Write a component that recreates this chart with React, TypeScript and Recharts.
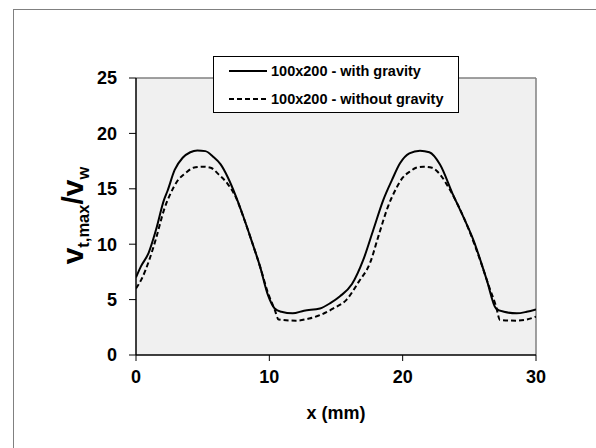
import React from 'react';
import { LineChart, Line, XAxis, YAxis, CartesianGrid, ReferenceLine, Legend } from 'recharts';

// Series: 100x200 - with gravity (solid)
const xGravity = [0, 0.37, 0.94, 1.5, 2.1, 2.36, 2.9, 3.5, 4.07, 4.6, 5.2, 5.78, 6.35, 6.9, 7.5, 8.05, 8.7, 9.3, 9.9, 10.4, 10.9, 11.75, 12.6, 13.8, 14.6, 15.3, 16.2, 17.05, 17.8, 18.55, 19.2, 19.8, 20.5, 21.3, 22.0, 22.8, 23.8, 24.5, 25.3, 26.3, 27.0, 27.6, 28.55, 29.3, 30];
const yGravity = [7.0, 8.0, 9.2, 11.3, 14.0, 14.8, 16.7, 17.8, 18.3, 18.46, 18.4, 17.9, 17.2, 16.0, 14.3, 12.5, 10.2, 8.0, 5.4, 4.2, 3.9, 3.76, 4.0, 4.2, 4.7, 5.3, 6.4, 8.6, 11.3, 14.0, 15.8, 17.3, 18.2, 18.44, 18.3, 17.2, 14.4, 12.6, 10.4, 6.8, 4.2, 3.9, 3.76, 3.9, 4.12];

// Series: 100x200 - without gravity (dashed)
const xNoGravity = [0, 0.4, 1.0, 1.5, 2.1, 2.6, 3.1, 3.7, 4.3, 5.0, 5.6, 6.2, 6.9, 7.5, 8.1, 8.7, 9.3, 9.9, 10.4, 10.7, 12.0, 13.0, 13.8, 14.8, 15.8, 16.7, 17.55, 18.2, 18.9, 19.5, 20.0, 20.6, 21.0, 21.55, 22.2, 22.8, 23.5, 24.2, 25.0, 25.8, 26.5, 27.0, 27.3, 28.5, 29.3, 30];
const yNoGravity = [6.0, 6.8, 8.6, 10.5, 13.1, 14.6, 15.7, 16.4, 16.9, 17.0, 16.9, 16.3, 15.4, 14.2, 12.3, 10.2, 8.0, 5.6, 4.1, 3.2, 3.1, 3.3, 3.6, 4.2, 5.0, 6.6, 8.3, 10.8, 13.4, 15.0, 16.0, 16.6, 16.9, 17.0, 16.9, 16.3, 15.0, 13.4, 11.2, 8.6, 6.1, 4.4, 3.16, 3.1, 3.2, 3.46];

const xTicks = [0, 10, 20, 30];
const yTicks = [0, 5, 10, 15, 20, 25];
const seriesNames = ['100x200 - with gravity', '100x200 - without gravity'];
const seriesDash = ['', '5 3'];

const gravityData = xGravity.map((x, i) => ({ x, y: yGravity[i] }));
const noGravityData = xNoGravity.map((x, i) => ({ x, y: yNoGravity[i] }));

const FONT = "'Liberation Sans', Arial, sans-serif";

const LegendBox = () => (
  <div
    style={{
      width: 246,
      height: 57,
      border: '1px solid #000',
      background: '#fff',
      boxSizing: 'border-box',
      fontFamily: FONT,
      fontWeight: 'bold',
      fontSize: 14.5,
      color: '#000',
      position: 'relative',
    }}
  >
    {seriesNames.map((name, i) => (
      <div
        key={name}
        style={{ position: 'absolute', left: 0, top: i === 0 ? 6 : 34, display: 'flex', alignItems: 'center', height: 16, whiteSpace: 'nowrap' }}
      >
        <svg width={40} height={10} style={{ marginLeft: 15, marginRight: 2 }}>
          <line x1={0} y1={5} x2={38} y2={5} stroke="#000" strokeWidth={2} strokeDasharray={seriesDash[i] || undefined} />
        </svg>
        <span>{name}</span>
      </div>
    ))}
  </div>
);

const YLabel = (props: any) => {
  const vb = props.viewBox || { x: 76, y: 78, width: 60, height: 277 };
  const cx = vb.x + 7;
  const cy = vb.y + vb.height / 2 - 1;
  return (
    <text
      x={cx}
      y={cy}
      transform={`rotate(-90 ${cx} ${cy})`}
      textAnchor="middle"
      fontFamily={FONT}
      fontWeight="bold"
      fontSize={30}
      fill="#000"
    >
      <tspan>v</tspan>
      <tspan fontSize={16.5} dy={6}>t,max</tspan>
      <tspan fontSize={30} dy={-6}>/v</tspan>
      <tspan fontSize={16.5} dy={6}>w</tspan>
    </text>
  );
};

const XLabel = (props: any) => {
  const vb = props.viewBox || { x: 136, y: 355, width: 400, height: 58 };
  return (
    <text
      x={vb.x + vb.width / 2}
      y={vb.y + 64}
      textAnchor="middle"
      fontFamily={FONT}
      fontWeight="bold"
      fontSize={18}
      fill="#000"
    >
      x (mm)
    </text>
  );
};

export default function App() {
  const tickStyle = { fill: '#000', fontSize: 18, fontWeight: 'bold', fontFamily: FONT };
  return (
    <div style={{ position: 'absolute', left: 0, top: 0, width: 596, height: 448, overflow: 'hidden', background: '#fff' }}>
      <div
        style={{
          position: 'absolute',
          left: 13,
          top: 9,
          width: 700,
          height: 600,
          border: '1px solid #808080',
        }}
      />
      <div style={{ position: 'absolute', left: 0, top: 0 }}>
        <LineChart width={596} height={448} margin={{ top: 78, right: 60, bottom: 35, left: 76 }}>
          <CartesianGrid horizontal={false} vertical={false} fill="#f0f0f0" fillOpacity={1} />
          <ReferenceLine y={25} stroke="#808080" strokeWidth={1.5} ifOverflow="visible" />
          <ReferenceLine x={30} stroke="#808080" strokeWidth={1.5} ifOverflow="visible" />
          <XAxis
            type="number"
            dataKey="x"
            domain={[0, 30]}
            ticks={xTicks}
            allowDataOverflow
            height={58}
            tickSize={6}
            tickMargin={9}
            stroke="#000"
            strokeWidth={1.5}
            tick={tickStyle}
            tickLine={{ stroke: '#000', strokeWidth: 1 }}
            label={<XLabel />}
          />
          <YAxis
            type="number"
            domain={[0, 25]}
            ticks={yTicks}
            width={60}
            tickSize={7}
            tickMargin={12}
            stroke="#000"
            strokeWidth={1.5}
            tick={tickStyle}
            tickLine={{ stroke: '#000', strokeWidth: 1 }}
            label={<YLabel />}
          />
          <Legend
            layout="horizontal"
            verticalAlign="middle"
            align="center"
            content={() => <LegendBox />}
            wrapperStyle={{ position: 'absolute', left: 213, top: 56, width: 246, height: 57 }}
          />
          <Line
            data={gravityData}
            dataKey="y"
            name={seriesNames[0]}
            type="monotone"
            stroke="#000"
            strokeWidth={2}
            dot={false}
            isAnimationActive={false}
          />
          <Line
            data={noGravityData}
            dataKey="y"
            name={seriesNames[1]}
            type="monotone"
            stroke="#000"
            strokeWidth={2}
            strokeDasharray="5 3"
            dot={false}
            isAnimationActive={false}
          />
        </LineChart>
      </div>
    </div>
  );
}
